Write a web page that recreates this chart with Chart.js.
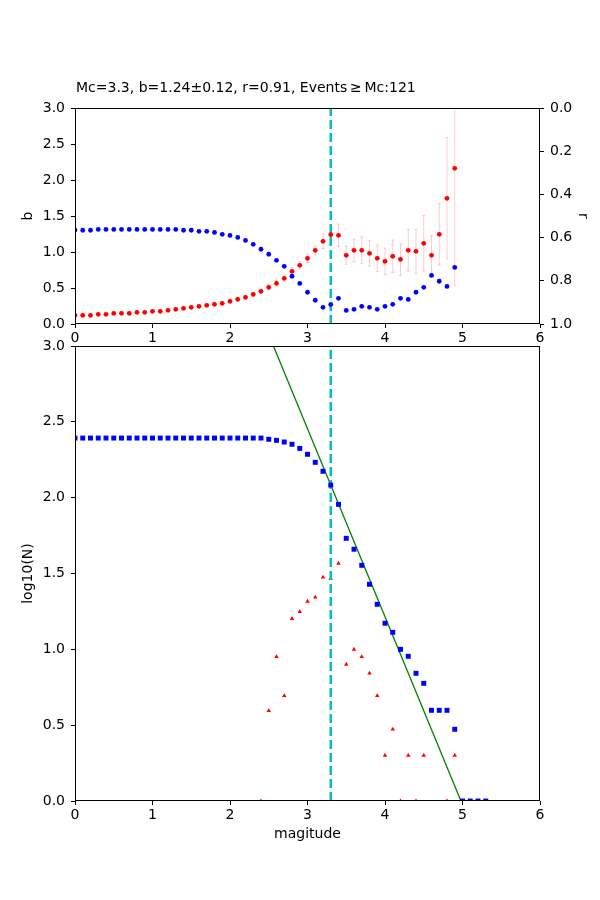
<!DOCTYPE html>
<html>
<head>
<meta charset="utf-8">
<script src="https://cdn.jsdelivr.net/npm/chart.js@4"></script>
<style>
  body { margin: 0; background: #fff; }
  #wrap { position: relative; width: 600px; height: 900px; }
  canvas { position: absolute; left: 0; }
  #topChart { top: 0; }
  #bottomChart { top: 330px; }
</style>
</head>
<body>
<div id="wrap">
  <canvas id="topChart" width="600" height="350"></canvas>
  <canvas id="bottomChart" width="600" height="570"></canvas>
</div>
<script>
// magnitude bins
const magBins = [0.0,0.1,0.2,0.3,0.4,0.5,0.6,0.7,0.8,0.9,1.0,1.1,1.2,1.3,1.4,1.5,1.6,1.7,1.8,1.9,
  2.0,2.1,2.2,2.3,2.4,2.5,2.6,2.7,2.8,2.9,3.0,3.1,3.2,3.3,3.4,3.5,3.6,3.7,3.8,3.9,
  4.0,4.1,4.2,4.3,4.4,4.5,4.6,4.7,4.8,4.9,5.0,5.1,5.2,5.3];

// top panel: b-value and its error per cut-off magnitude (0.0 .. 4.9)
const bValues = [0.12,0.12,0.12,0.134,0.134,0.148,0.148,0.148,0.162,0.162,0.176,0.176,0.19,0.204,0.218,0.232,0.245,0.26,0.273,0.287,
  0.315,0.343,0.37,0.412,0.454,0.51,0.565,0.634,0.731,0.815,0.912,1.023,1.148,1.24,1.231,0.954,1.023,1.023,0.981,0.912,
  0.87,0.94,0.898,1.023,1.009,1.12,0.954,1.245,1.745,2.162];
const bErrors = [0.008,0.008,0.008,0.009,0.009,0.01,0.01,0.01,0.011,0.011,0.012,0.012,0.013,0.014,0.015,0.016,0.017,0.018,0.019,0.02,
  0.022,0.024,0.026,0.029,0.032,0.036,0.04,0.045,0.05,0.055,0.06,0.065,0.1,0.12,0.157,0.125,0.157,0.185,0.176,0.185,
  0.185,0.227,0.222,0.29,0.306,0.386,0.278,0.426,0.843,1.625];
// goodness-of-fit r (right axis, inverted)
const rValues = [0.565,0.566,0.566,0.562,0.562,0.562,0.562,0.562,0.562,0.562,0.562,0.562,0.562,0.562,0.566,0.566,0.571,0.571,0.576,0.585,
  0.59,0.599,0.613,0.631,0.654,0.677,0.705,0.733,0.779,0.812,0.853,0.89,0.923,0.91,0.881,0.937,0.932,0.918,0.923,0.932,
  0.918,0.909,0.881,0.886,0.853,0.83,0.775,0.802,0.826,0.738];

// bottom panel: log10 of cumulative and non-cumulative counts
const cumLog = [2.393,2.393,2.393,2.393,2.393,2.393,2.393,2.393,2.393,2.393,2.393,2.393,2.393,2.393,2.393,2.393,2.393,2.393,2.393,2.393,
  2.393,2.393,2.393,2.393,2.393,2.385,2.378,2.367,2.352,2.325,2.286,2.233,2.174,2.083,1.956,1.732,1.66,1.554,1.429,1.297,
  1.172,1.112,1.0,0.954,0.842,0.776,0.598,0.598,0.598,0.473,0,0,0,0];
const nonCumLog = [null,null,null,null,null,null,null,null,null,null,null,null,null,null,null,null,null,null,null,null,
  null,null,null,null,0,0.595,0.951,0.694,1.202,1.248,1.316,1.343,1.475,1.466,1.567,0.901,1.0,0.951,0.842,0.694,
  0.301,0.473,0,0.301,0,0.301,null,null,0,0.301,null,null,null,null];

const Mc = 3.3;
const fitA = 6.175;
const fitB = 1.24;
const titleText = "Mc=3.3, b=1.24\u00b10.12, r=0.91, Events\u2009\u2265\u2009Mc:121";

Chart.defaults.font.family = "'DejaVu Sans', sans-serif";
Chart.defaults.font.size = 14;
Chart.defaults.color = "#000";

function pts(values) {
  return values.map((v, i) => ({ x: magBins[i], y: v }));
}

const framePlugin = {
  id: "frame",
  afterDraw(chart) {
    const a = chart.chartArea, ctx = chart.ctx;
    ctx.save();
    ctx.strokeStyle = "#000";
    ctx.lineWidth = 1;
    ctx.strokeRect(Math.round(a.left) + 0.5, Math.round(a.top) + 0.5,
      Math.round(a.right - a.left) - 1, Math.round(a.bottom - a.top) - 1);
    ctx.restore();
  }
};

const errorBarPlugin = {
  id: "errbars",
  beforeDatasetsDraw(chart) {
    const ctx = chart.ctx, a = chart.chartArea;
    const xs = chart.scales.x, ys = chart.scales.y;
    ctx.save();
    ctx.beginPath();
    ctx.rect(a.left, a.top, a.right - a.left, a.bottom - a.top);
    ctx.clip();
    ctx.strokeStyle = "rgba(255,0,0,0.2)";
    ctx.lineWidth = 1;
    bValues.forEach((b, i) => {
      const px = xs.getPixelForValue(magBins[i]);
      const y1 = ys.getPixelForValue(b - bErrors[i]);
      const y2 = ys.getPixelForValue(b + bErrors[i]);
      ctx.beginPath();
      ctx.moveTo(px, y1); ctx.lineTo(px, y2);
      ctx.moveTo(px - 1.5, y1); ctx.lineTo(px + 1.5, y1);
      ctx.moveTo(px - 1.5, y2); ctx.lineTo(px + 1.5, y2);
      ctx.stroke();
    });
    ctx.restore();
  }
};

const titlePlugin = {
  id: "toptitle",
  afterDraw(chart) {
    const ctx = chart.ctx;
    ctx.save();
    ctx.font = "14px 'DejaVu Sans'";
    ctx.fillStyle = "#000";
    ctx.textAlign = "left";
    ctx.textBaseline = "middle";
    ctx.fillText(titleText, chart.chartArea.left + 1, chart.chartArea.top - 20);
    ctx.restore();
  }
};

function axisGrid() {
  return { drawOnChartArea: false, drawTicks: true, tickLength: 4, color: "#000" };
}

const mcLine = {
  data: [{ x: Mc, y: 0 }, { x: Mc, y: 3 }],
  showLine: true, borderColor: "#00bfbf", borderWidth: 2.5, borderDash: [9, 4],
  pointRadius: 0, yAxisID: "y"
};

new Chart(document.getElementById("topChart"), {
  type: "scatter",
  data: {
    datasets: [
      { ...mcLine, order: 3 },
      { data: pts(bValues), backgroundColor: "#ff0000", pointRadius: 2.4, borderWidth: 0, yAxisID: "y", order: 1, clip: 0 },
      { data: pts(rValues), backgroundColor: "#0000ff", pointRadius: 2.4, borderWidth: 0, yAxisID: "y2", order: 2, clip: 0 }
    ]
  },
  options: {
    responsive: false, animation: false, events: [],
    layout: { padding: { top: 108, left: 20, right: 9, bottom: 0 } },
    plugins: { legend: { display: false }, tooltip: { enabled: false } },
    scales: {
      x: {
        type: "linear", min: 0, max: 6, grid: axisGrid(), border: { display: false },
        ticks: { stepSize: 1, padding: 2 },
        afterFit: s => { s.height = 26; }
      },
      y: {
        min: 0, max: 3, position: "left", grid: axisGrid(), border: { display: false },
        ticks: { stepSize: 0.5, padding: 6, callback: v => v.toFixed(1) },
        title: { display: true, text: "b", padding: { top: 0, bottom: 0 } },
        afterFit: s => { s.width = 55; }
      },
      y2: {
        min: 0, max: 1, reverse: true, position: "right", grid: axisGrid(), border: { display: false },
        ticks: { stepSize: 0.2, padding: 6, callback: v => v.toFixed(1) },
        title: { display: true, text: "r", padding: { top: 0, bottom: 0 } },
        afterFit: s => { s.width = 51; }
      }
    }
  },
  plugins: [errorBarPlugin, framePlugin, titlePlugin]
});

new Chart(document.getElementById("bottomChart"), {
  type: "scatter",
  data: {
    datasets: [
      { ...mcLine, order: 1 },
      { data: [{ x: 0, y: fitA }, { x: 5.3, y: fitA - fitB * 5.3 }], showLine: true,
        borderColor: "#008000", borderWidth: 1.3, pointRadius: 0, order: 2 },
      { data: pts(nonCumLog), backgroundColor: "#ff0000", pointStyle: "triangle", pointRadius: 2.6,
        borderWidth: 0, order: 3, clip: 0 },
      { data: pts(cumLog), backgroundColor: "#0000ff", pointStyle: "rect", pointRadius: 3.5,
        borderWidth: 0, order: 0, clip: 0 }
    ]
  },
  options: {
    responsive: false, animation: false, events: [],
    layout: { padding: { top: 16, left: 20, right: 60, bottom: 53 } },
    plugins: { legend: { display: false }, tooltip: { enabled: false } },
    scales: {
      x: {
        type: "linear", min: 0, max: 6, grid: axisGrid(), border: { display: false },
        ticks: { stepSize: 1, padding: 2 },
        title: { display: true, text: "magitude", padding: { top: 0, bottom: 4 } },
        afterFit: s => { s.height = 46; }
      },
      y: {
        min: 0, max: 3, grid: axisGrid(), border: { display: false },
        ticks: { stepSize: 0.5, padding: 6, callback: v => v.toFixed(1) },
        title: { display: true, text: "log10(N)", padding: { top: 0, bottom: 0 } },
        afterFit: s => { s.width = 55; }
      }
    }
  },
  plugins: [framePlugin]
});
</script>
</body>
</html>
